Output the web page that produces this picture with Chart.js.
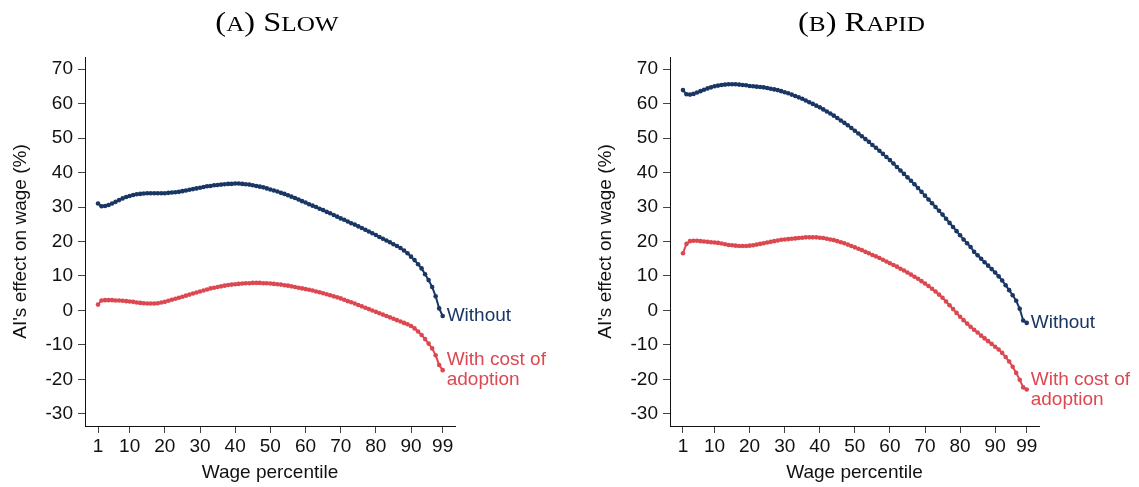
<!DOCTYPE html>
<html>
<head>
<meta charset="utf-8">
<script src="https://cdn.jsdelivr.net/npm/chart.js@4.4.1/dist/chart.umd.min.js"></script>
<style>
  html, body { margin: 0; padding: 0; background: #fff; }
  #wrap { position: relative; width: 1139px; height: 487px; }
  .panel { position: absolute; top: 0; }
</style>
</head>
<body>
<div id="wrap">
  <div class="panel" style="left:0px"><canvas id="slow" width="570" height="487"></canvas></div>
  <div class="panel" style="left:585px"><canvas id="rapid" width="554" height="487"></canvas></div>
</div>
<script>
// wage percentiles 1..99 (x categories)
const percentiles = Array.from({ length: 99 }, (_, i) => i + 1);
const xTickValues = [1, 10, 20, 30, 40, 50, 60, 70, 80, 90, 99];
const yTickValues = [-30, -20, -10, 0, 10, 20, 30, 40, 50, 60, 70];

// (A) Slow
const slowWithout = [
  31.0, 30.2, 30.3, 30.6, 31.0, 31.5, 32.0, 32.5, 32.9, 33.2,
  33.5, 33.7, 33.8, 33.9, 34.0, 34.0, 34.0, 34.0, 34.0, 34.0,
  34.1, 34.2, 34.3, 34.4, 34.6, 34.8, 35.0, 35.2, 35.4, 35.6,
  35.8, 36.0, 36.1, 36.3, 36.4, 36.5, 36.6, 36.7, 36.7, 36.8,
  36.8, 36.7, 36.6, 36.5, 36.3, 36.1, 35.9, 35.7, 35.4, 35.1,
  34.8, 34.5, 34.1, 33.8, 33.4, 33.0, 32.6, 32.2, 31.7, 31.3,
  30.8, 30.4, 30.0, 29.5, 29.1, 28.6, 28.2, 27.7, 27.2, 26.7,
  26.3, 25.8, 25.3, 24.9, 24.4, 23.9, 23.4, 22.9, 22.4, 21.9,
  21.3, 20.8, 20.3, 19.8, 19.2, 18.7, 18.1, 17.4, 16.6, 15.6,
  14.6, 13.4, 12.2, 10.5, 8.8, 6.8, 4.1, 0.6, -1.6
];
const slowWithCost = [
  1.7, 2.9, 3.0, 3.0, 3.0, 2.9, 2.9, 2.8, 2.7, 2.6,
  2.5, 2.3, 2.2, 2.1, 2.0, 2.0, 2.0, 2.1, 2.3, 2.5,
  2.8, 3.1, 3.4, 3.7, 4.0, 4.3, 4.6, 4.9, 5.2, 5.5,
  5.8, 6.1, 6.4, 6.6, 6.8, 7.0, 7.2, 7.4, 7.5, 7.6,
  7.7, 7.8, 7.9, 7.9, 8.0, 8.0, 8.0, 7.9, 7.9, 7.8,
  7.7, 7.6, 7.5, 7.3, 7.2, 7.0, 6.8, 6.6, 6.4, 6.2,
  6.0, 5.8, 5.5, 5.3, 5.0, 4.7, 4.4, 4.1, 3.8, 3.5,
  3.1, 2.7, 2.4, 2.0, 1.6, 1.2, 0.8, 0.4, 0.0, -0.4,
  -0.8, -1.2, -1.6, -2.0, -2.4, -2.8, -3.2, -3.6, -4.0, -4.5,
  -5.2, -6.1, -7.1, -8.3, -9.6, -11.0, -13.0, -15.8, -17.3
];

// (B) Rapid
const rapidWithout = [
  63.9, 62.7, 62.6, 62.8, 63.2, 63.6, 64.0, 64.4, 64.7, 65.0,
  65.2, 65.4, 65.5, 65.6, 65.6, 65.6, 65.5, 65.4, 65.3, 65.1,
  65.0, 64.9, 64.8, 64.7, 64.5, 64.3, 64.1, 63.9, 63.6, 63.3,
  63.0, 62.6, 62.2, 61.8, 61.4, 60.9, 60.4, 59.9, 59.4, 58.9,
  58.3, 57.7, 57.1, 56.5, 55.8, 55.1, 54.4, 53.7, 52.9, 52.1,
  51.3, 50.5, 49.7, 48.9, 48.0, 47.2, 46.3, 45.4, 44.5, 43.6,
  42.6, 41.6, 40.6, 39.6, 38.6, 37.6, 36.6, 35.5, 34.4, 33.3,
  32.2, 31.1, 30.0, 28.9, 27.8, 26.6, 25.4, 24.2, 23.0, 21.8,
  20.6, 19.5, 18.4, 17.0, 16.0, 15.0, 14.0, 13.0, 12.0, 11.0,
  9.9, 8.7, 7.3, 5.9, 4.4, 2.8, 0.5, -2.9, -3.6
];
const rapidWithCost = [
  16.6, 19.3, 20.1, 20.2, 20.2, 20.1, 20.0, 19.9, 19.8, 19.7,
  19.6, 19.4, 19.2, 19.0, 18.9, 18.8, 18.7, 18.7, 18.7, 18.8,
  18.9, 19.1, 19.3, 19.5, 19.7, 19.9, 20.1, 20.3, 20.5, 20.6,
  20.7, 20.8, 20.9, 21.0, 21.1, 21.2, 21.2, 21.2, 21.2, 21.1,
  21.0, 20.8, 20.6, 20.4, 20.1, 19.8, 19.5, 19.1, 18.7, 18.3,
  17.9, 17.5, 17.0, 16.6, 16.1, 15.7, 15.2, 14.7, 14.2, 13.7,
  13.2, 12.7, 12.1, 11.6, 11.0, 10.4, 9.8, 9.2, 8.5, 7.8,
  7.1, 6.3, 5.5, 4.6, 3.7, 2.6, 1.5, 0.4, -0.7, -1.8,
  -2.8, -3.8, -4.7, -5.6, -6.4, -7.3, -8.1, -8.9, -9.7, -10.5,
  -11.3, -12.3, -13.5, -14.8, -16.3, -18.1, -20.1, -22.3, -22.9
];

const NAVY = '#1a3664';
const RED = '#dc4850';
const SANS = "'Liberation Sans', Arial, sans-serif";
const SERIF = "'Liberation Serif', 'DejaVu Serif', serif";

// title like "(A) SLOW" with small caps, a bit wider (Palatino-like)
const panelTitle = {
  id: 'panelTitle',
  afterDraw(chart, args, opts) {
    const ctx = chart.ctx;
    const parts = opts.parts;
    const area = chart.chartArea;
    const sx = 1.2;
    ctx.save();
    ctx.fillStyle = '#000';
    ctx.textBaseline = 'alphabetic';
    ctx.textAlign = 'left';
    let total = 0;
    parts.forEach(p => {
      ctx.font = p[1] + 'px ' + SERIF;
      total += ctx.measureText(p[0]).width;
    });
    const cx = (area.left + area.right) / 2 + 7;
    ctx.translate(cx - total * sx / 2, 31);
    ctx.scale(sx, 1);
    let x = 0;
    parts.forEach(p => {
      ctx.font = p[1] + 'px ' + SERIF;
      ctx.fillText(p[0], x, 0);
      x += ctx.measureText(p[0]).width;
    });
    ctx.restore();
  }
};

// series names at the end of each line
const endLabels = {
  id: 'endLabels',
  afterDatasetsDraw(chart) {
    const ctx = chart.ctx;
    const xs = chart.scales.x, ys = chart.scales.y;
    ctx.save();
    ctx.font = '19px ' + SANS;
    ctx.textAlign = 'left';
    ctx.textBaseline = 'middle';
    chart.data.datasets.forEach(ds => {
      const n = ds.data.length;
      const px = xs.getPixelForValue(percentiles[n - 1]) + 4;
      const py = ys.getPixelForValue(ds.data[n - 1]);
      const lines = ds.endText;
      ctx.fillStyle = ds.borderColor;
      lines.forEach((t, i) => {
        ctx.fillText(t, px, py + (i - (lines.length - 1) / 2) * 20);
      });
    });
    ctx.restore();
  }
};

function makePanel(id, titleParts, without, withCost, padRight) {
  const ctx = document.getElementById(id).getContext('2d');
  return new Chart(ctx, {
    type: 'line',
    data: {
      labels: percentiles,
      datasets: [
        {
          label: 'Without',
          endText: ['Without'],
          data: without,
          borderColor: NAVY,
          backgroundColor: NAVY,
          borderWidth: 2,
          pointRadius: 2.3,
          pointBorderWidth: 0,
          tension: 0
        },
        {
          label: 'With cost of adoption',
          endText: ['With cost of', 'adoption'],
          data: withCost,
          borderColor: RED,
          backgroundColor: RED,
          borderWidth: 2,
          pointRadius: 2.3,
          pointBorderWidth: 0,
          tension: 0
        }
      ]
    },
    options: {
      responsive: false,
      animation: false,
      events: [],
      layout: { padding: { top: 57, left: 0, right: padRight, bottom: 0 } },
      plugins: {
        legend: { display: false },
        tooltip: { enabled: false },
        panelTitle: { parts: titleParts }
      },
      scales: {
        x: {
          type: 'linear',
          min: -2.7,
          max: 102.5,
          afterBuildTicks: s => { s.ticks = xTickValues.map(v => ({ value: v })); },
          afterFit: s => { s.height = 61; },
          ticks: {
            color: '#111',
            font: { family: SANS, size: 19 },
            padding: 2,
            maxRotation: 0,
            autoSkip: false,
            callback: v => String(v)
          },
          grid: { drawOnChartArea: false, drawTicks: true, tickLength: 7, tickColor: '#444' },
          border: { display: true, color: '#111', width: 1 },
          title: {
            display: true,
            text: 'Wage percentile',
            color: '#111',
            font: { family: SANS, size: 19 },
            padding: { top: 0, bottom: 3 }
          }
        },
        y: {
          min: -33.5,
          max: 73.5,
          afterBuildTicks: s => { s.ticks = yTickValues.map(v => ({ value: v })); },
          afterFit: s => { s.width = 85; },
          ticks: {
            color: '#111',
            font: { family: SANS, size: 19 },
            padding: 5,
            callback: v => String(v)
          },
          grid: { drawOnChartArea: false, drawTicks: true, tickLength: 7, tickColor: '#444' },
          border: { display: true, color: '#111', width: 1 },
          title: {
            display: true,
            text: "AI's effect on wage (%)",
            color: '#111',
            font: { family: SANS, size: 19 },
            padding: { top: 9, bottom: 0 }
          }
        }
      }
    },
    plugins: [panelTitle, endLabels]
  });
}

makePanel('slow', [['(', 27], ['A', 21], [') S', 27], ['LOW', 21]], slowWithout, slowWithCost, 115);
makePanel('rapid', [['(', 27], ['B', 21], [') R', 27], ['APID', 21]], rapidWithout, rapidWithCost, 100);
</script>
</body>
</html>
